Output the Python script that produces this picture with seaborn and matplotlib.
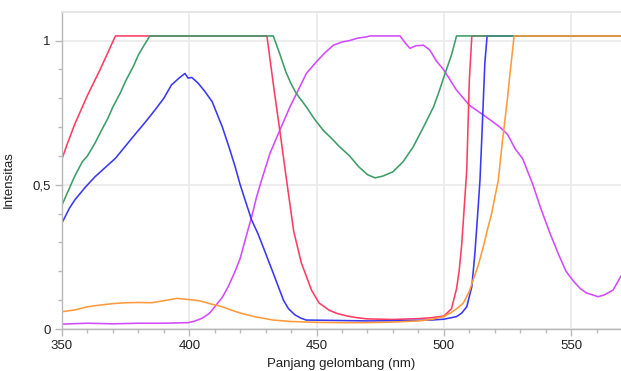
import numpy as np
import pandas as pd
import matplotlib
matplotlib.use("Agg")
import matplotlib.pyplot as plt
import seaborn as sns
from matplotlib.ticker import MultipleLocator, FixedLocator

# ---- data ----
red_x = [350, 352, 355, 360, 365, 371, 430.5, 433, 436, 438, 441, 444, 448, 451, 455, 458, 462, 466,
         470, 480, 490, 495, 500, 503, 505, 506, 507, 508, 509, 510, 511, 570]
red_y = [0.59, 0.64, 0.71, 0.81, 0.90, 1.016, 1.016, 0.85, 0.66, 0.53, 0.34, 0.23, 0.135, 0.09, 0.065,
         0.054, 0.045, 0.039, 0.035, 0.033, 0.036, 0.039, 0.045, 0.07, 0.14, 0.20, 0.29, 0.42, 0.55,
         0.86, 1.016, 1.016]

green_x = [350, 352, 355, 358, 360, 363, 365, 368, 370, 373, 375, 378, 380, 382, 384.5, 433, 435.5, 438,
           440, 442, 446, 449, 452.5, 456, 459, 463, 466.5, 470, 473, 476, 480, 484, 488, 492, 496, 498,
           500.5, 503, 505, 570]
green_y = [0.43, 0.47, 0.53, 0.58, 0.60, 0.645, 0.68, 0.73, 0.77, 0.82, 0.86, 0.91, 0.95, 0.98, 1.016,
           1.016, 0.955, 0.89, 0.85, 0.817, 0.77, 0.73, 0.69, 0.66, 0.632, 0.60, 0.563, 0.535, 0.524,
           0.53, 0.545, 0.58, 0.632, 0.70, 0.771, 0.82, 0.886, 0.95, 1.016, 1.016]

blue_x = [350, 353, 355, 359, 363, 367, 371, 375, 379, 383, 386.5, 390, 393, 396, 398.3, 399.5, 401,
          403.5, 406, 409, 413, 416, 418, 420, 422, 424.5, 427, 429, 433, 437, 439, 441.5, 444, 446,
          455, 470, 485, 495, 500, 505, 507, 509, 511, 512.2, 513.5, 514.2, 515, 516.1, 517, 570]
blue_y = [0.368, 0.42, 0.447, 0.49, 0.528, 0.56, 0.592, 0.635, 0.678, 0.72, 0.759, 0.80, 0.846, 0.87,
          0.886, 0.87, 0.872, 0.852, 0.825, 0.788, 0.70, 0.62, 0.563, 0.50, 0.445, 0.378, 0.33, 0.285,
          0.193, 0.10, 0.07, 0.049, 0.037, 0.031, 0.03, 0.028, 0.029, 0.031, 0.034, 0.043, 0.055, 0.077,
          0.147, 0.262, 0.424, 0.516, 0.68, 0.92, 1.016, 1.016]

orange_x = [350, 355, 360, 365, 370, 375, 380, 385, 390, 395, 400, 404, 408, 413, 417, 421, 426, 433,
            440, 450, 460, 470, 480, 490, 495, 500, 503, 505, 507.6, 510, 511.5, 513.5, 515.5, 517,
            518.8, 520, 521.4, 523, 524, 525, 526, 527.6, 570]
orange_y = [0.06, 0.066, 0.077, 0.083, 0.088, 0.091, 0.092, 0.091, 0.098, 0.106, 0.102, 0.098, 0.088,
            0.077, 0.064, 0.053, 0.042, 0.031, 0.026, 0.023, 0.022, 0.022, 0.024, 0.028, 0.033, 0.043,
            0.058, 0.07, 0.089, 0.13, 0.17, 0.22, 0.285, 0.34, 0.401, 0.455, 0.516, 0.65, 0.724, 0.80,
            0.886, 1.016, 1.016]

magenta_x = [350, 360, 370, 380, 390, 395, 399.6, 402, 405, 408, 410, 413, 415.3, 418, 420, 422, 424.5,
             426.5, 428.4, 431.7, 435.6, 439.6, 442.8, 446, 450, 453, 456.6, 460, 463, 466, 469.7, 471,
             482.8, 485, 486.7, 489, 492, 494.5, 497, 500, 505, 510, 515.5, 519, 522, 525, 528, 531,
             535, 538, 541.7, 545, 548, 551, 553.5, 556, 560.6, 563, 566.5, 570]
magenta_y = [0.017, 0.02, 0.018, 0.02, 0.02, 0.021, 0.022, 0.027, 0.037, 0.055, 0.077, 0.11, 0.147, 0.20,
             0.245, 0.31, 0.389, 0.46, 0.516, 0.609, 0.69, 0.771, 0.828, 0.886, 0.927, 0.955, 0.984,
             0.995, 1.0, 1.008, 1.013, 1.016, 1.016, 0.99, 0.973, 0.982, 0.984, 0.967, 0.93, 0.898,
             0.828, 0.776, 0.742, 0.72, 0.70, 0.675, 0.625, 0.59, 0.50, 0.42, 0.332, 0.26, 0.20, 0.165,
             0.141, 0.125, 0.112, 0.118, 0.135, 0.19]

series_order = ["magenta", "red", "blue", "green", "orange"]
series_data = {
    "red": (red_x, red_y),
    "green": (green_x, green_y),
    "blue": (blue_x, blue_y),
    "orange": (orange_x, orange_y),
    "magenta": (magenta_x, magenta_y),
}
palette = {
    "red": "#ff3d63",
    "green": "#3d9d67",
    "blue": "#3838f5",
    "orange": "#ff9a3c",
    "magenta": "#d24bff",
}

frames = []
for name in series_order:
    xs, ys = series_data[name]
    frames.append(pd.DataFrame({"wl": xs, "val": ys, "series": name}))
df = pd.concat(frames, ignore_index=True)

# ---- figure ----
sns.set_theme(style="white")
plt.rcParams["font.family"] = ["Liberation Sans", "DejaVu Sans"]

fig = plt.figure(figsize=(6.21, 3.71), dpi=100)
ax = fig.add_axes([62 / 621, 42 / 371, 559 / 621, 317 / 371])

sns.lineplot(data=df, x="wl", y="val", hue="series", hue_order=series_order,
             palette=palette, estimator=None, sort=False, linewidth=1.15,
             legend=False, ax=ax)

ax.set_xlim(350, 569.6)
ax.set_ylim(0, 1.099)

ax.xaxis.set_major_locator(FixedLocator([350, 400, 450, 500, 550]))
ax.xaxis.set_minor_locator(MultipleLocator(10))
ax.yaxis.set_major_locator(FixedLocator([0, 0.5, 1.0]))
ax.yaxis.set_minor_locator(MultipleLocator(0.1))
ax.set_yticklabels(["0", "0,5", "1"])

ax.grid(True, which="major", color="#ececec", linewidth=1.4)
ax.set_axisbelow(True)

for side in ["left", "bottom"]:
    ax.spines[side].set_color("#b8b8b8")
    ax.spines[side].set_linewidth(1.0)
ax.spines["top"].set_color("#e6e6e6")
ax.spines["top"].set_linewidth(1.4)
ax.spines["right"].set_visible(False)

ax.tick_params(axis="both", which="major", length=5, width=1, color="#b8b8b8",
               labelsize=9.5, labelcolor="#222222", direction="out", pad=3,
               bottom=True, left=True)
ax.tick_params(axis="both", which="minor", length=3, width=1, color="#b8b8b8",
               direction="out", bottom=True, left=True)

ax.set_xlabel("Panjang gelombang (nm)", fontsize=9.5, color="#222222", labelpad=4)
ax.set_ylabel("Intensitas", fontsize=9.5, color="#222222")
ax.yaxis.set_label_coords(-0.084, 0.47)

fig.savefig("out.png", dpi=100)
